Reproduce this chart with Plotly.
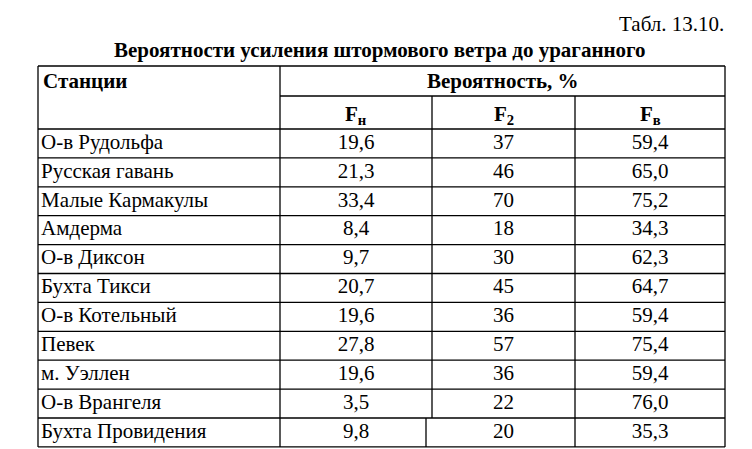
import plotly.graph_objects as go

stations = ["О-в Рудольфа", "Русская гавань", "Малые Кармакулы", "Амдерма", "О-в Диксон",
            "Бухта Тикси", "О-в Котельный", "Певек", "м. Уэллен", "О-в Врангеля", "Бухта Провидения"]
f_n = ["19,6", "21,3", "33,4", "8,4", "9,7", "20,7", "19,6", "27,8", "19,6", "3,5", "9,8"]
f_2 = ["37", "46", "70", "18", "30", "45", "36", "57", "36", "22", "20"]
f_v = ["59,4", "65,0", "75,2", "34,3", "62,3", "64,7", "59,4", "75,4", "59,4", "76,0", "35,3"]
headers = ["<b>F<sub>н</sub></b>", "<b>F<sub>2</sub></b>", "<b>F<sub>в</sub></b>"]

W, H = 752, 449
xs = [30, 272, 424, 567, 717]
top, h1, h2 = 58, 88, 121
rh = 28.9
n = len(stations)
bottom = h2 + rh * n
FONT = "Liberation Serif, Times New Roman, serif"

fig = go.Figure()
tx, ty, tt, pos = [], [], [], []
for i in range(n):
    yc = h2 + rh * (i + 0.5)
    tx.append(xs[0] + 3); ty.append(yc); tt.append(stations[i]); pos.append("middle right")
    for j, col in enumerate([f_n, f_2, f_v]):
        tx.append((xs[j + 1] + xs[j + 2]) / 2); ty.append(yc); tt.append(col[i]); pos.append("middle center")
fig.add_trace(go.Scatter(x=tx, y=ty, text=tt, mode="text", textposition=pos,
                         textfont=dict(family=FONT, size=21, color="black"), hoverinfo="skip"))

ann = dict(showarrow=False, font=dict(family=FONT, size=21, color="black"), xref="x", yref="y")
fig.add_annotation(x=xs[0] + 3, y=(top + h1) / 2, text="<b>Станции</b>", xanchor="left", **ann)
fig.add_annotation(x=(xs[1] + xs[4]) / 2, y=(top + h1) / 2, text="<b>Вероятность, %</b>", **ann)
for j, h in enumerate(headers):
    fig.add_annotation(x=(xs[j + 1] + xs[j + 2]) / 2, y=(h1 + h2) / 2 + 2, text=h, **ann)
fig.add_annotation(x=718, y=16, text="Табл. 13.10.", xanchor="right", **ann)
fig.add_annotation(x=372, y=42, text="<b>Вероятности усиления штормового ветра до ураганного</b>", **ann)

line = dict(color="black", width=1.3)
def seg(x0, y0, x1, y1):
    fig.add_shape(type="line", x0=x0, y0=y0, x1=x1, y1=y1, line=line, xref="x", yref="y")

seg(xs[0], top, xs[4], top)
seg(xs[1], h1, xs[4], h1)
for i in range(n + 1):
    y = h2 + rh * i
    seg(xs[0], y, xs[4], y)
seg(xs[0], top, xs[0], bottom)
seg(xs[4], top, xs[4], bottom)
seg(xs[1], top, xs[1], bottom)
seg(xs[2], h1, xs[2], bottom - rh)
seg(xs[3], h1, xs[3], bottom)
seg(xs[2] - 6, bottom - rh, xs[2] - 6, bottom)

fig.update_layout(width=W, height=H, margin=dict(l=0, r=0, t=0, b=0),
                  plot_bgcolor="white", paper_bgcolor="white", showlegend=False,
                  xaxis=dict(range=[0, W], visible=False, fixedrange=True),
                  yaxis=dict(range=[H, 0], visible=False, fixedrange=True))
fig.write_html("out.html")
